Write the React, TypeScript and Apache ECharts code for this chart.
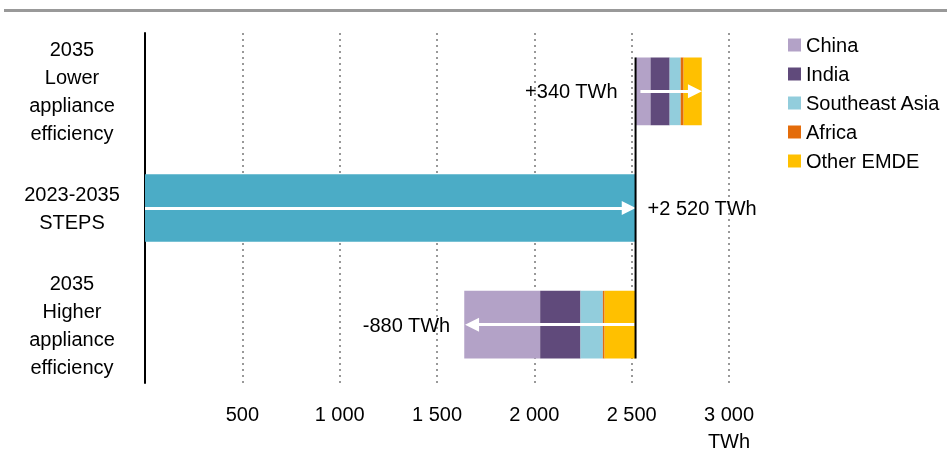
import React, { useEffect, useRef } from "react";
import * as echarts from "echarts";

const categories = [
  "2035\nLower\nappliance\nefficiency",
  "2023-2035\nSTEPS",
  "2035\nHigher\nappliance\nefficiency",
];
const stepsValue = 2520;
const regions = ["China", "India", "Southeast Asia", "Africa", "Other EMDE"];
const lowerValues = [77, 98, 57, 15, 93];
const higherValues = [390, 207, 115, 9, 159];
const regionColors = ["#B3A2C7", "#604A7B", "#92CDDC", "#E46C0A", "#FFC000"];
const stepsColor = "#4BACC6";
const changeLabels = ["+340 TWh", "+2 520 TWh", "-880 TWh"];
const tickLabels = ["", "500", "1 000", "1 500", "2 000", "2 500", "3 000"];
const unitLabel = "TWh";

const FONT = "Liberation Sans";
const FS = 20;

export default function App() {
  const ref = useRef<HTMLDivElement>(null);
  useEffect(() => {
    if (!ref.current) return;
    const chart = echarts.init(ref.current, null, { renderer: "svg" });
    const lowerTotal = lowerValues.reduce((a, b) => a + b, 0);
    const higherTotal = higherValues.reduce((a, b) => a + b, 0);
    const baseData = [
      { value: stepsValue, label: { show: true, distance: 18, formatter: changeLabels[0] } },
      "-",
      { value: stepsValue - higherTotal, label: { show: true, distance: 14, formatter: changeLabels[2] } },
    ];
    const series: any[] = [
      {
        name: "base",
        type: "bar",
        stack: "total",
        barWidth: "58%",
        silent: true,
        itemStyle: { color: "transparent" },
        label: { show: false, position: "insideRight", color: "#000", fontSize: FS, fontFamily: FONT },
        emphasis: { disabled: true },
        data: baseData,
      },
      {
        name: "STEPS",
        type: "bar",
        stack: "total",
        barWidth: "58%",
        itemStyle: { color: stepsColor },
        label: {
          show: true,
          position: "right",
          distance: 12,
          color: "#000",
          fontSize: FS,
          fontFamily: FONT,
          formatter: (p: any) => (p.dataIndex === 1 ? changeLabels[1] : ""),
        },
        data: ["-", stepsValue, "-"],
        markLine: {
          silent: true,
          symbol: ["none", "triangle"],
          symbolSize: [14, 14],
          label: { show: false },
          lineStyle: { color: "#fff", width: 3, type: "solid" },
          emphasis: { disabled: true },
          z: 10,
          data: [
            [{ coord: [0, categories[1]] }, { coord: [stepsValue - 35, categories[1]] }],
            [{ coord: [stepsValue + 25, categories[0]] }, { coord: [stepsValue + lowerTotal - 35, categories[0]] }],
            [{ coord: [stepsValue - 5, categories[2]] }, { coord: [stepsValue - higherTotal + 40, categories[2]] }],
          ],
        },
      },
      ...regions.map((r, i) => ({
        name: r,
        type: "bar",
        stack: "total",
        barWidth: "58%",
        itemStyle: { color: regionColors[i] },
        data: [lowerValues[i], "-", higherValues[i]],
      })),
      {
        name: "divider",
        type: "custom",
        z: 20,
        silent: true,
        encode: { x: 0, y: 1 },
        data: [[stepsValue, 0]],
        renderItem: (params: any, api: any) => {
          const x = api.value(0);
          const p0 = api.coord([x, 0]);
          const p2 = api.coord([x, 2]);
          const half = api.size([0, 1])[1] * 0.29;
          return {
            type: "line",
            shape: { x1: p0[0], y1: p0[1] - half, x2: p2[0], y2: p2[1] + half },
            style: { stroke: "#000", lineWidth: 2 },
          };
        },
      },
    ];

    chart.setOption({
      animation: false,
      grid: {
        left: 145,
        top: 33,
        width: 584,
        height: 350,
        containLabel: false,
        outerBoundsMode: "none",
      },
      legend: {
        data: regions,
        orient: "vertical",
        left: 788,
        top: 35,
        padding: 0,
        itemWidth: 13,
        itemHeight: 13,
        itemGap: 9,
        icon: "rect",
        selectedMode: false,
        textStyle: { fontSize: FS, lineHeight: 20, color: "#000", fontFamily: FONT },
      },
      xAxis: {
        type: "value",
        min: 0,
        max: 3000,
        interval: 500,
        axisLine: { show: false },
        axisTick: { show: false },
        splitLine: { show: true, lineStyle: { type: [2, 4], color: "#999", width: 2 } },
        axisLabel: {
          fontSize: FS,
          lineHeight: 27,
          margin: 17,
          color: "#000",
          fontFamily: FONT,
          formatter: (v: number) => {
            const idx = Math.round(v / 500);
            const t = tickLabels[idx] ?? "";
            return idx === tickLabels.length - 1 ? t + "\n" + unitLabel : t;
          },
        },
      },
      yAxis: {
        type: "category",
        inverse: true,
        data: categories,
        axisLine: { show: true, lineStyle: { color: "#000", width: 2 } },
        axisTick: { show: false },
        axisLabel: {
          align: "center",
          margin: 73,
          fontSize: FS,
          lineHeight: 28,
          color: "#000",
          fontFamily: FONT,
        },
      },
      graphic: [
        {
          type: "rect",
          left: 4,
          top: 9,
          shape: { width: 943, height: 3 },
          style: { fill: "#999" },
          silent: true,
        },
      ],
      series,
    });
    return () => chart.dispose();
  }, []);
  return (
    <div
      ref={ref}
      style={{ position: "fixed", left: 0, top: 0, width: 947, height: 450 }}
    />
  );
}
